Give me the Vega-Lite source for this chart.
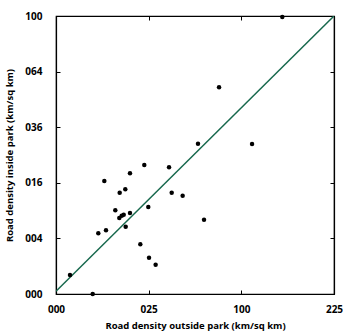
{
  "$schema": "https://vega.github.io/schema/vega-lite/v6.json",
  "width": 278,
  "height": 278,
  "autosize": {"type": "none"},
  "padding": {"left": 56, "top": 16, "right": 9, "bottom": 39},
  "background": "white",
  "config": {
    "view": {"stroke": "black", "strokeWidth": 1.2},
    "font": "Open Sans",
    "axis": {
      "domainColor": "black",
      "domainWidth": 1.2,
      "tickColor": "black",
      "tickWidth": 1,
      "grid": false,
      "labelFlush": false,
      "labelFont": "Open Sans",
      "labelFontWeight": "bold",
      "labelFontSize": 10,
      "labelColor": "black",
      "titleFont": "Open Sans",
      "titleFontWeight": "bold",
      "titleFontSize": 9.5,
      "titleColor": "black"
    }
  },
  "datasets": {
    "pts": [
      {"outside": 0.57, "inside": 0.47},
      {"outside": 3.92, "inside": 0.0},
      {"outside": 5.21, "inside": 4.77},
      {"outside": 7.28, "inside": 5.25},
      {"outside": 6.8, "inside": 16.5},
      {"outside": 10.24, "inside": 9.06},
      {"outside": 11.81, "inside": 13.28},
      {"outside": 13.98, "inside": 14.18},
      {"outside": 15.94, "inside": 18.85},
      {"outside": 11.67, "inside": 7.47},
      {"outside": 12.57, "inside": 7.93},
      {"outside": 13.35, "inside": 8.14},
      {"outside": 15.94, "inside": 8.49},
      {"outside": 14.14, "inside": 5.86},
      {"outside": 22.7, "inside": 21.5},
      {"outside": 24.8, "inside": 9.79},
      {"outside": 20.7, "inside": 3.2},
      {"outside": 25.2, "inside": 1.71},
      {"outside": 28.9, "inside": 1.11},
      {"outside": 37.2, "inside": 20.8},
      {"outside": 38.97, "inside": 13.28},
      {"outside": 46.7, "inside": 12.5},
      {"outside": 63.8, "inside": 7.15},
      {"outside": 58.7, "inside": 29.2},
      {"outside": 111.9, "inside": 29.1},
      {"outside": 77.4, "inside": 55.3},
      {"outside": 149.1, "inside": 99.3}
    ],
    "diag": [
      {"outside": 0, "inside": 0.01},
      {"outside": 225, "inside": 100}
    ]
  },
  "layer": [
    {
      "data": {"name": "diag"},
      "mark": {"type": "line", "color": "#17684d", "strokeWidth": 1.5, "clip": true},
      "encoding": {
        "x": {
          "field": "outside", "type": "quantitative",
          "scale": {"type": "sqrt", "domain": [0, 225], "nice": false, "zero": true},
          "axis": {"orient": "top", "values": [0, 25, 100, 225], "labels": false, "title": null, "tickSize": -4, "domain": true}
        },
        "y": {
          "field": "inside", "type": "quantitative",
          "scale": {"type": "sqrt", "domain": [0, 100], "nice": false, "zero": true},
          "axis": {"orient": "right", "values": [0, 4, 16, 36, 64, 100], "labels": false, "title": null, "tickSize": -4, "domain": true}
        }
      }
    },
    {
      "data": {"name": "pts"},
      "mark": {"type": "circle", "color": "black", "opacity": 1, "size": 20, "clip": false},
      "encoding": {
        "x": {
          "field": "outside", "type": "quantitative",
          "axis": {"orient": "bottom", "values": [0, 25, 100, 225], "format": "03d", "tickSize": -4, "labelPadding": 14, "title": "Road density outside park (km/sq km)", "titlePadding": 6}
        },
        "y": {
          "field": "inside", "type": "quantitative",
          "axis": {"orient": "left", "values": [0, 4, 16, 36, 64, 100], "format": "03d", "tickSize": -4, "labelPadding": 18, "title": "Road density inside park (km/sq km)", "titlePadding": 10}
        }
      }
    }
  ],
  "resolve": {"axis": {"x": "independent", "y": "independent"}}
}
